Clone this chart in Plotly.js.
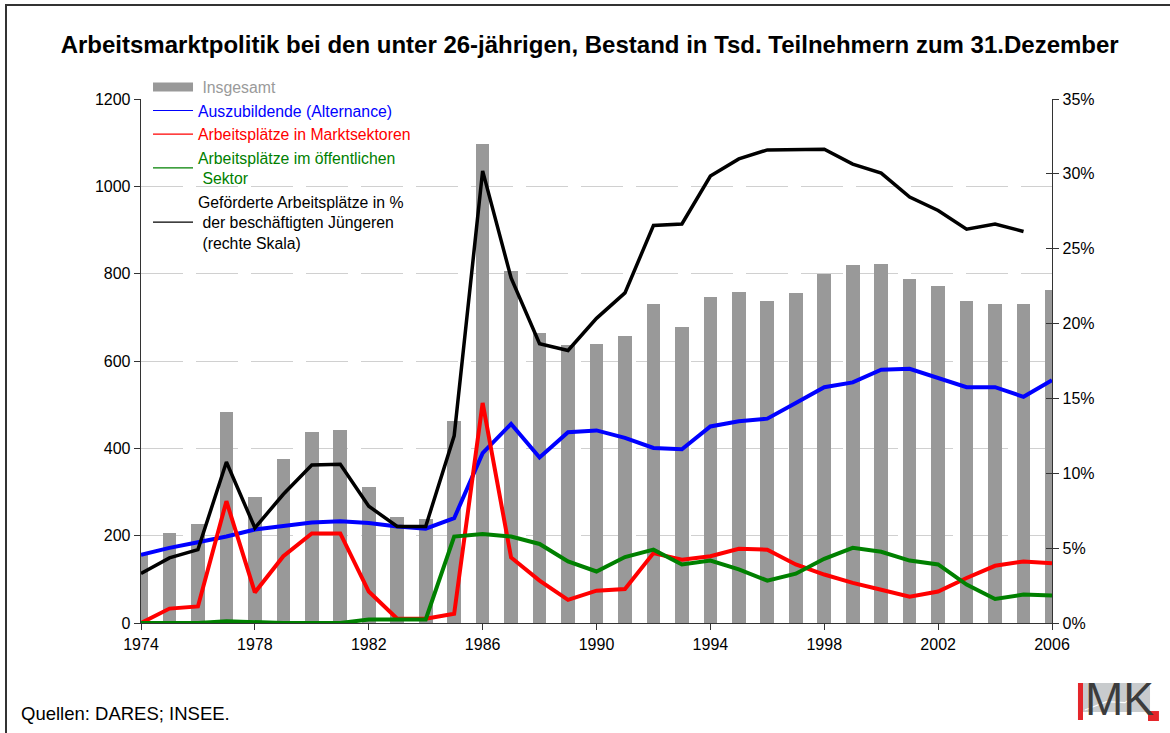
<!DOCTYPE html>
<html>
<head>
<meta charset="utf-8">
<script src="https://cdn.plot.ly/plotly-3.0.1.min.js"></script>
<style>
  html, body { margin:0; padding:0; background:#fff; }
  #wrap { position:relative; width:1170px; height:733px; overflow:hidden; }
  #chart { position:absolute; left:0; top:0; width:1170px; height:733px; }
  #frame { position:absolute; left:5px; top:4px; width:1200px; height:800px;
           border-top:2px solid #333; border-left:2px solid #333; pointer-events:none; }
</style>
</head>
<body>
<div id="wrap">
  <div id="chart"></div>
  <div id="frame"></div>
</div>
<script>
// ---- data ----
const years = [1974,1975,1976,1977,1978,1979,1980,1981,1982,1983,1984,1985,1986,1987,1988,1989,1990,
               1991,1992,1993,1994,1995,1996,1997,1998,1999,2000,2001,2002,2003,2004,2005,2006];
const insgesamt = [157,206,227,483,288,376,438,443,311,242,239,462,1098,807,663,636,638,
                   658,731,679,746,759,738,756,800,819,823,788,771,737,730,730,762];
const auszubildende = [156,172,185,198,214,221,230,233,229,221,216,240,389,456,379,437,441,
                       424,401,398,450,462,468,504,540,551,580,582,561,540,540,518,556];
const marktsektoren = [0,33,38,279,70,153,205,205,72,10,10,21,504,150,97,53,74,
                       78,160,145,153,170,168,134,111,92,76,60,72,103,131,141,137];
const oeffentlich = [0,0,0,4,1,0,0,0,8,8,8,198,204,198,181,141,118,
                     151,168,134,143,123,97,113,147,172,163,143,134,88,55,65,63];
const gefoerdertPct = [3.3,4.35,4.9,10.75,6.35,8.6,10.55,10.6,7.8,6.45,6.45,12.5,30.2,23.05,18.65,18.2,20.35,
                       22.05,26.55,26.65,29.85,31.0,31.6,31.6,31.65,30.65,30.05,28.45,27.55,26.3,26.65,26.15,null];
const leftTicks = [0,200,400,600,800,1000,1200];
const rightTicks = [0,5,10,15,20,25,30,35];
const xTicks = [1974,1978,1982,1986,1990,1994,1998,2002,2006];

const seriesNames = [
  '<span style="color:#9a9a9a"> Insgesamt</span>',
  '<span style="color:#0000ff">Auszubildende (Alternance)</span>',
  '<span style="color:#ff0000">Arbeitsplätze in Marktsektoren</span>',
  '<span style="color:#008000">Arbeitsplätze im öffentlichen<br> Sektor</span>',
  'Geförderte Arbeitsplätze in %<br> der beschäftigten Jüngeren<br> (rechte Skala)'
];
const seriesColors = ['#999999','#0000ff','#ff0000','#008000','#000000'];

const FONT = 'Liberation Sans, Arial, sans-serif';

const traces = [
  { type:'bar', x:years, y:insgesamt, width:0.48, marker:{color:'#999999'}, showlegend:false },
  { type:'scatter', mode:'lines', x:years, y:auszubildende, cliponaxis:false,
    line:{color:seriesColors[1], width:4}, showlegend:false },
  { type:'scatter', mode:'lines', x:years, y:marktsektoren, cliponaxis:false,
    line:{color:seriesColors[2], width:4}, showlegend:false },
  { type:'scatter', mode:'lines', x:years, y:oeffentlich, cliponaxis:false,
    line:{color:seriesColors[3], width:4}, showlegend:false },
  { type:'scatter', mode:'lines', x:years, y:gefoerdertPct, yaxis:'y2', cliponaxis:false,
    line:{color:seriesColors[4], width:3.5}, showlegend:false },
  { type:'scatter', mode:'lines', x:years, y:gefoerdertPct, yaxis:'y3',
    line:{color:'rgba(0,0,0,0)', width:0}, showlegend:false, hoverinfo:'skip' }
];
// legend-only entries (thin line keys, wide grey key for the bars)
seriesNames.forEach((nm, i) => {
  traces.push({ type:'scatter', mode:'lines', x:[null], y:[null], name:nm,
                line:{color:seriesColors[i], width: i === 0 ? 9 : 1.2} });
});

const layout = {
  width:1170, height:733,
  margin:{l:141, r:118, t:99, b:110},
  paper_bgcolor:'#ffffff', plot_bgcolor:'#ffffff',
  font:{family:FONT, size:16, color:'#000'},
  title:{ text:'<b>Arbeitsmarktpolitik bei den unter 26-jährigen, Bestand in Tsd. Teilnehmern zum 31.Dezember</b>',
          font:{family:FONT, size:24, color:'#000'},
          x:0.504, xanchor:'center', y:0.939, yanchor:'middle', xref:'container', yref:'container' },
  showlegend:true,
  legend:{ x:0.0077, y:1.055, xanchor:'left', yanchor:'top', bgcolor:'rgba(0,0,0,0)',
           font:{family:FONT, size:15.8}, itemwidth:40, tracegroupgap:0 },
  bargap:0,
  xaxis:{ range:[1974,2006], tickmode:'array', tickvals:xTicks, ticktext:xTicks.map(String),
          showgrid:false, zeroline:false, showline:true, linecolor:'#333', linewidth:1.3,
          ticks:'outside', ticklen:6, tickcolor:'#333', tickfont:{size:16} },
  yaxis:{ range:[0,1200], tickmode:'array', tickvals:leftTicks, ticktext:leftTicks.map(String),
          showgrid:true, gridcolor:'#d0d0d0', gridwidth:1, griddash:'42px,13px',
          zeroline:false, showline:true, linecolor:'#333', linewidth:1.3,
          ticks:'outside', ticklen:6, tickcolor:'#333', tickfont:{size:16} },
  yaxis2:{ range:[0,35], overlaying:'y', side:'right', tickmode:'array', tickvals:rightTicks,
           ticktext:rightTicks.map(v=>v+'%'), showgrid:false, zeroline:false,
           showline:true, linecolor:'#333', linewidth:1.3,
           ticks:'outside', ticklen:6, tickcolor:'#333', tickfont:{size:16} },
  yaxis3:{ range:[0,35], overlaying:'y', side:'right', tickmode:'array', tickvals:rightTicks,
           showticklabels:false, showgrid:false, zeroline:false, showline:false,
           ticks:'inside', ticklen:6, tickcolor:'#333' },
  annotations:[
    { text:'Quellen: DARES; INSEE.', xref:'paper', yref:'paper', x:-0.1339, y:-0.172,
      xanchor:'left', yanchor:'middle', showarrow:false, font:{family:FONT, size:18.5, color:'#000'} },
    { text:'MK', xref:'paper', yref:'paper', x:1.0345, y:-0.1455,
      xanchor:'left', yanchor:'middle', showarrow:false,
      font:{family:'Liberation Sans Narrow, Liberation Sans, Arial', size:46, color:'#3c3c3c'} }
  ],
  shapes:[
    { type:'rect', xref:'paper', yref:'paper', x0:1.034, x1:1.1076, y0:-0.1145, y1:-0.1698,
      fillcolor:'#c8cbcd', line:{width:0}, layer:'below' },
    { type:'path', xref:'paper', yref:'paper', path:'M 1.036 -0.166 L 1.06 -0.15 L 1.08 -0.152 L 1.1076 -0.118',
      line:{color:'#ffffff', width:1.2}, layer:'below' },
    { type:'rect', xref:'paper', yref:'paper', x0:1.0285, x1:1.034, y0:-0.1145, y1:-0.1851,
      fillcolor:'#e4262a', line:{width:0} },
    { type:'rect', xref:'paper', yref:'paper', x0:1.1054, x1:1.1174, y0:-0.168, y1:-0.187,
      fillcolor:'#e4262a', line:{width:0} }
  ]
};

Plotly.newPlot('chart', traces, layout, {staticPlot:true, displayModeBar:false});
</script>
</body>
</html>
